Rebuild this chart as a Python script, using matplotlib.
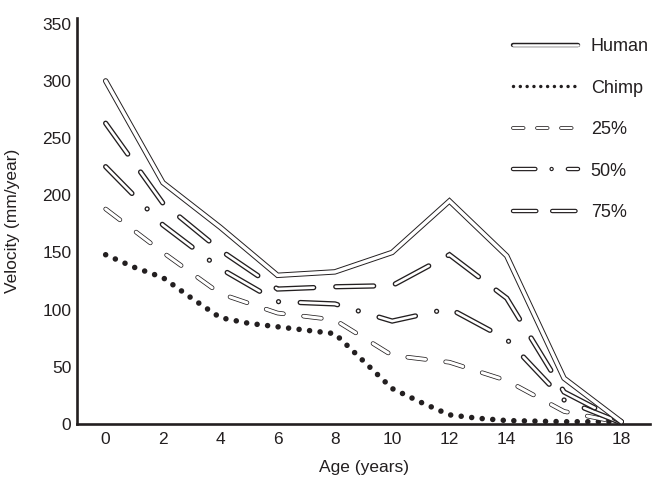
# Library importing
import matplotlib
matplotlib.use('Agg')
import matplotlib.pyplot as plt
from matplotlib.lines import Line2D

# Dash lengths given in points, not scaled with line width
plt.rcParams['lines.scale_dashes'] = False
plt.rcParams['font.family'] = ['Liberation Sans', 'DejaVu Sans']

# Data
ages = [0, 2, 4, 6, 8, 10, 12, 14, 16, 18]
human = [300, 211, 172, 130, 133, 150, 195, 147, 40, 2]
p75 = [263, 193, 152, 118, 120, 121, 148, 110, 28, 2]
p50 = [225, 174, 136, 107, 105, 90, 101, 74, 21, 1]
p25 = [188, 150, 114, 97, 91, 60, 54, 38, 11, 1]

chimp_ages = list(range(0, 19))
chimp = [148, 137, 128, 110, 93, 88, 85, 82, 79, 55, 31, 19, 8, 5, 3, 2.5, 2, 2, 2]

labels = ['Human', 'Chimp', '25%', '50%', '75%']
xticks = [0, 2, 4, 6, 8, 10, 12, 14, 16, 18]
yticks = [0, 50, 100, 150, 200, 250, 300, 350]

ink = '#231f20'

fig = plt.figure(figsize=(6.56, 4.78), dpi=100)
ax = fig.add_axes([77 / 656, 54 / 478, 573 / 656, 406 / 478])


# Draws a "hollow" line: thick black stroke with a thinner white stroke on top
def hollow(x, y, outer, inner, dashes=None, z=2):
    kw = dict(solid_capstyle='round', dash_capstyle='round',
              solid_joinstyle='miter', dash_joinstyle='miter', clip_on=False)
    b, = ax.plot(x, y, color=ink, lw=outer, zorder=z, **kw)
    w, = ax.plot(x, y, color='white', lw=inner, zorder=z + 0.5, **kw)
    if dashes is not None:
        b.set_dashes(dashes)
        w.set_dashes(dashes)


# Chimp: round dots
ax.plot(chimp_ages, chimp, color=ink, lw=4.0, dashes=(0.01, 7.6),
        dash_capstyle='round', clip_on=False, zorder=2)

hollow(ages, p25, 3.3, 2.2, dashes=(12.9, 14.6), z=3)
hollow(ages, p50, 3.8, 1.9, dashes=(27, 15.6, 0.01, 15.6), z=4)
hollow(ages, p75, 3.8, 1.9, dashes=(27.3, 15.9), z=5)
hollow(ages, human, 3.9, 2.5, z=6)

# Axes styling
ax.set_xlim(-1, 19)
ax.set_ylim(0, 355)
ax.set_xticks(xticks)
ax.set_yticks(yticks)
ax.tick_params(axis='both', length=0, labelsize=12.5, colors=ink)
ax.tick_params(axis='x', pad=6)
ax.tick_params(axis='y', pad=4)
for s in ['top', 'right']:
    ax.spines[s].set_visible(False)
for s in ['left', 'bottom']:
    ax.spines[s].set_linewidth(1.9)
    ax.spines[s].set_color(ink)
ax.set_xlabel('Age (years)', fontsize=12.5, color=ink, labelpad=9)
ax.set_ylabel('Velocity (mm/year)', fontsize=12.5, color=ink, labelpad=16)


# Legend proxies (legend marks are smaller than in the plot)
def proxy(outer, inner, dashes=None):
    b = Line2D([], [], color=ink, lw=outer, solid_capstyle='round', dash_capstyle='round')
    w = Line2D([], [], color='white', lw=inner, solid_capstyle='round', dash_capstyle='round')
    if dashes is not None:
        b.set_dashes(dashes)
        w.set_dashes(dashes)
    return (b, w)


handles = [
    proxy(3.2, 1.8),
    Line2D([], [], color=ink, lw=2.5, dashes=(0.01, 4.9), dash_capstyle='round'),
    proxy(2.7, 1.6, dashes=(7.6, 9.7)),
    proxy(3.2, 1.5, dashes=(16.1, 11.7, 0.01, 11.7)),
    proxy(3.2, 1.5, dashes=(16.8, 11.4)),
]
leg = ax.legend(handles, labels, loc='upper left',
                bbox_to_anchor=(513 / 656, 1 - 38 / 478), bbox_transform=fig.transFigure,
                frameon=False, fontsize=13, handlelength=3.6, handletextpad=0.7,
                labelspacing=1.36, borderpad=0, borderaxespad=0)
for t in leg.get_texts():
    t.set_color(ink)

fig.savefig('out.png', dpi=100)
